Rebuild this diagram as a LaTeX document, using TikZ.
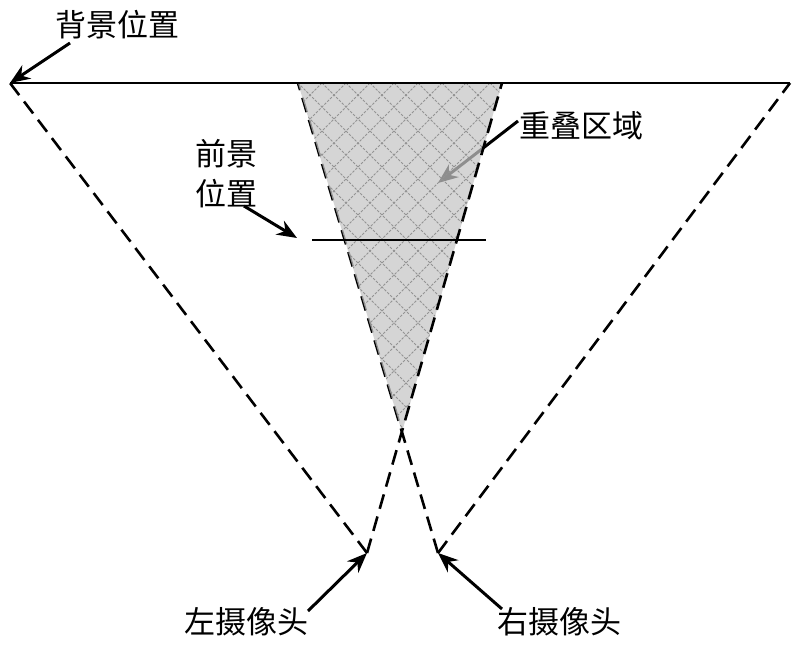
\documentclass[tikz,border=0pt]{standalone}
\usepackage{fontspec}
\newfontfamily\cjk{Noto Sans CJK SC}
\usetikzlibrary{arrows.meta}
\begin{document}
\begin{tikzpicture}[x=1pt,y=-1pt,
  lbl/.style={font=\cjk\fontsize{31}{40}\selectfont, inner sep=0pt, align=center},
  dsh/.style={line width=2.6pt, dash pattern=on 15pt off 8pt},
  solidln/.style={line width=2.6pt},
  arr/.style={line width=3pt, -{Stealth[length=20pt,width=16pt]}}]
\useasboundingbox[fill=white] (0,0) rectangle (800,650);
% geometry
\coordinate (BL) at (10,83);
\coordinate (BR) at (790,83);
\coordinate (OL) at (298,83);
\coordinate (OR) at (502,83);
\coordinate (X) at (402,432);
\coordinate (CL) at (367,553);
\coordinate (CR) at (438,553);
\coordinate (FL) at (312,240);
\coordinate (FR) at (486,240);
% labels
\node[lbl] (bg) at (117,25) {背景位置};
\node[lbl] (fg) at (226,174) {前景\\位置};
\node[lbl] (ov) at (581,126) {重叠区域};
\node[lbl] (lc) at (246,622) {左摄像头};
\node[lbl] (rc) at (559,622) {右摄像头};
\coordinate (bgS) at (70,43);
\coordinate (fgS) at (244,206);
\coordinate (fgT) at (297,238);
\coordinate (ovS) at (518,121);
\coordinate (ovT) at (438,183);
\coordinate (lcS) at (308,611);
\coordinate (rcS) at (502,609);
% overlap arrow (drawn before the shading)
\draw[arr] (ovS) -- (ovT);
% right camera edges
\draw[dsh] (CR) -- (OL);
\draw[dsh] (CR) -- (BR);
% shaded overlap
\fill[gray!45, fill opacity=0.72] (OL) -- (OR) -- (X) -- cycle;
\begin{scope}
  \clip (OL) -- (OR) -- (X) -- cycle;
  \foreach \k in {-20,...,30}{
    \draw[gray!85, line width=1pt, dash pattern=on 2.5pt off 1.5pt] (298+\k*24,83) -- ++(360,360);
    \draw[gray!85, line width=1pt, dash pattern=on 2.5pt off 1.5pt] (298+\k*24,83) -- ++(-360,360);
  }
\end{scope}
% left camera edges
\draw[dsh] (CL) -- (OR);
\draw[dsh] (CL) -- (BL);
% background and foreground lines
\draw[solidln] (BL) -- (BR);
\draw[solidln] (FL) -- (FR);
% label arrows
\draw[arr] (bgS) -- (BL);
\draw[arr] (fgS) -- (fgT);
\draw[arr] (lcS) -- (CL);
\draw[arr] (rcS) -- (CR);
\end{tikzpicture}
\end{document}
